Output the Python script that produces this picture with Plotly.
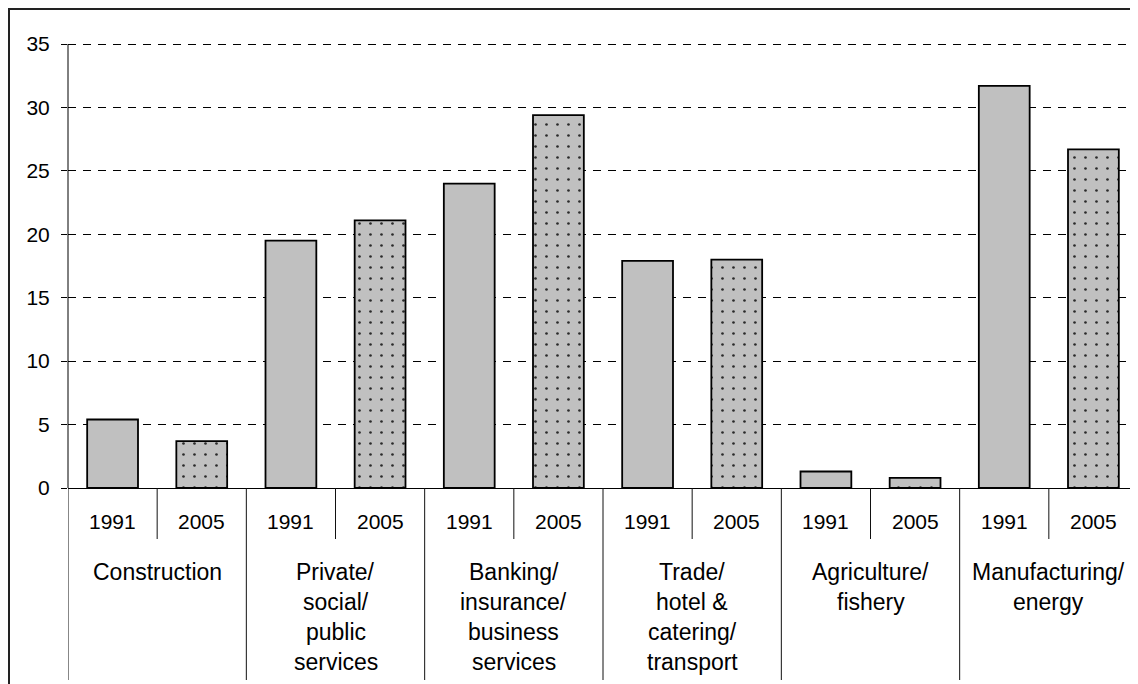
import plotly.graph_objects as go

# ---- data ----
sectors = [
    "Construction",
    "Private/<br>social/<br>public<br>services",
    "Banking/<br>insurance/<br>business<br>services",
    "Trade/<br>hotel &<br>catering/<br>transport",
    "Agriculture/<br>fishery",
    "Manufacturing/<br>energy",
]
years = ["1991", "2005"]
values_1991 = [5.4, 19.5, 24.0, 17.9, 1.3, 31.7]
values_2005 = [3.7, 21.1, 29.4, 18.0, 0.8, 26.7]
y_ticks = [0, 5, 10, 15, 20, 25, 30, 35]

FONT = "Arial, 'Liberation Sans', sans-serif"
# page has an 8px body margin, so the figure is sized to fill the rest
W, H = 1130, 676
EXTRA = 2  # a little headroom so the 35 gridline is not clipped away
ML, MT, MB, MR = 60, 36 - EXTRA, 196, 0
PLOT_W = W - ML - MR
PLOT_H = H - MT - MB
Y_MAX = 35 * PLOT_H / (PLOT_H - EXTRA)

n = len(sectors)
x91 = [2 * i + 0.5 for i in range(n)]
x05 = [2 * i + 1.5 for i in range(n)]
BAR_W = 0.57

fig = go.Figure()
fig.add_trace(go.Bar(
    x=x91, y=values_1991, width=BAR_W, name=years[0],
    marker=dict(color="#C0C0C0", line=dict(color="black", width=1.8)),
    hoverinfo="y",
))
fig.add_trace(go.Bar(
    x=x05, y=values_2005, width=BAR_W, name=years[1],
    marker=dict(color="#C0C0C0", line=dict(color="black", width=1.8),
                pattern=dict(shape=".", size=11, solidity=0.045,
                             fgcolor="#2a2a2a", bgcolor="#C0C0C0",
                             fillmode="replace")),
    hoverinfo="y",
))

annotations = []
shapes = []
# year labels and short separators
for i in range(n):
    for k, xc in enumerate((x91[i], x05[i])):
        annotations.append(dict(
            x=xc, y=0, xref="x", yref="y", text=years[k],
            showarrow=False, yanchor="middle", yshift=-33,
            font=dict(family=FONT, size=21, color="black"),
        ))
    shapes.append(dict(
        type="line", xref="x", yref="paper",
        x0=2 * i + 1, x1=2 * i + 1, y0=0, y1=-51 / PLOT_H,
        line=dict(color="#111111", width=1),
    ))
# group labels (one annotation per line) and long separators
for i, s in enumerate(sectors):
    for j, line in enumerate(s.split("<br>")):
        annotations.append(dict(
            x=2 * i + 1, y=0, xref="x", yref="y", text=line,
            showarrow=False, yanchor="middle", yshift=-84 - 30 * j,
            font=dict(family=FONT, size=23, color="black"),
        ))
for i in range(n + 1):
    shapes.append(dict(
        type="line", xref="x", yref="paper",
        x0=2 * i, x1=2 * i, y0=0, y1=-192 / PLOT_H,
        line=dict(color="#111111", width=1),
    ))
# outer frame
shapes.append(dict(
    type="rect", xref="paper", yref="paper",
    x0=(1 - ML) / PLOT_W, x1=(W + 20 - ML) / PLOT_W,
    y0=-(H + 20 - PLOT_H - MT) / PLOT_H, y1=1 + (MT - 1) / PLOT_H,
    line=dict(color="#222222", width=2), layer="above",
))
# y-axis line only from 0 to 35, as in the reference
shapes.append(dict(
    type="line", xref="paper", yref="y", x0=0, x1=0, y0=0, y1=y_ticks[-1],
    line=dict(color="black", width=1),
))

fig.update_layout(
    width=W, height=H,
    margin=dict(l=ML, r=MR, t=MT, b=MB, pad=0),
    paper_bgcolor="white", plot_bgcolor="white",
    showlegend=False, barmode="overlay",
    font=dict(family=FONT, size=21, color="black"),
    annotations=annotations, shapes=shapes,
    xaxis=dict(range=[0, 2 * n], showticklabels=False, showgrid=False,
               zeroline=False, showline=True, linecolor="black", linewidth=1,
               ticks="", fixedrange=True),
    yaxis=dict(range=[0, Y_MAX], tickvals=y_ticks, ticktext=[str(v) for v in y_ticks],
               ticks="outside", ticklen=6, tickcolor="black", tickwidth=1,
               showline=False,
               showgrid=True, gridcolor="black", gridwidth=1, griddash="8px,7px",
               zeroline=False, ticklabelstandoff=7,
               tickfont=dict(family=FONT, size=21, color="black"), fixedrange=True),
)

fig.write_html("out.html")
